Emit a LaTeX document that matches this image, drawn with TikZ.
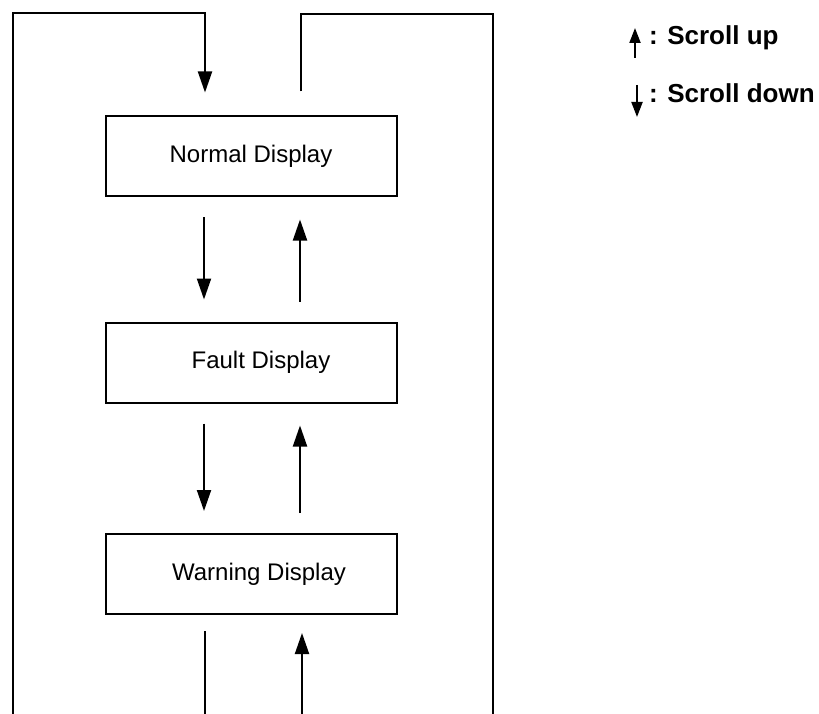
\documentclass[tikz,border=0pt]{standalone}
\usepackage{fontspec}
\setmainfont{Liberation Sans}
\usetikzlibrary{arrows.meta,positioning}

\begin{document}
\begin{tikzpicture}[x=1pt,y=-1pt,line width=2pt,
    >={Triangle[length=21pt,width=14pt]},
    disp/.style={draw,minimum width=291pt,minimum height=80pt,inner sep=0pt,
                 font=\fontsize{24}{28}\selectfont},
    dn/.style={->,shorten <=20pt,shorten >=22pt},
    leg/.style={font=\fontsize{26}{30}\selectfont\bfseries,anchor=base west,inner sep=0pt},
    legarrow/.style={-{Triangle[length=15pt,width=11pt]}}]

  \useasboundingbox (0,0) rectangle (819,714);

  \node[disp] (normal) at (251,156.5) {Normal Display};
  \node[disp] (fault) [below=124pt of normal] {\hspace*{20pt}Fault Display};
  \node[disp] (warn) [below=129.5pt of fault] {\hspace*{16pt}Warning Display};

  % loop ends
  \coordinate (lb) at (13,714);
  \coordinate (lt) at (13,13);
  \coordinate (dt) at (205,13);
  \coordinate (rt) at (301,14);
  \coordinate (rr) at (493,14);
  \coordinate (rb) at (493,714);
  \coordinate (bl) at (205,714);
  \coordinate (br) at (302,714);

  \draw[->,shorten >=23pt] (lb) -- (lt) -- (dt) -- ([xshift=-46pt]normal.north);
  \draw[shorten <=24pt] ([xshift=50pt]normal.north) -- (rt) -- (rr) -- (rb);

  \path
    ([xshift=-47pt]normal.south) edge[dn] ([xshift=-47pt]fault.north)
    ([xshift=49pt]fault.north) edge[dn] ([xshift=49pt]normal.south)
    ([xshift=-47pt]fault.south) edge[dn] ([xshift=-47pt]warn.north)
    ([xshift=49pt]warn.north) edge[dn] ([xshift=49pt]fault.south);

  \draw[shorten <=16pt] ([xshift=-46pt]warn.south) -- (bl);
  \draw[->,shorten >=18pt] (br) -- ([xshift=51pt]warn.south);

  % legend
  \node[leg] (uptxt) at (648,45) {: Scroll up};
  \node[leg] (dntxt) at (648,103) {: Scroll down};
  \coordinate (ua) at (635,58);
  \coordinate (ub) at (635,28);
  \coordinate (da) at (637,85);
  \coordinate (db) at (637,117);
  \draw[legarrow] (ua) -- (ub);
  \draw[legarrow] (da) -- (db);

\end{tikzpicture}
\end{document}
